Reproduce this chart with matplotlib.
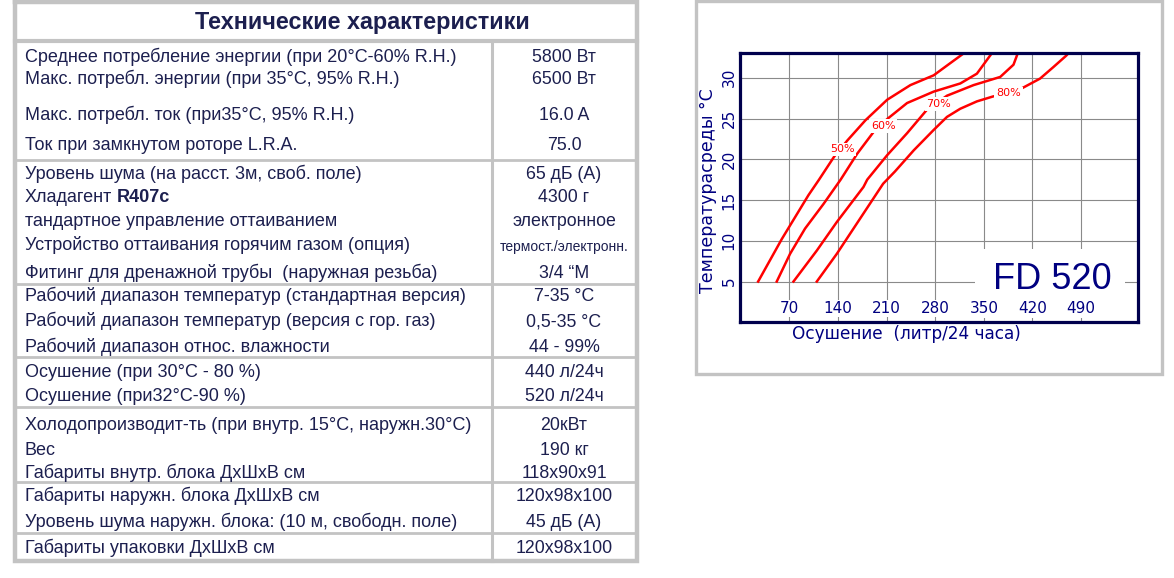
import numpy as np
import matplotlib.pyplot as plt
from matplotlib.patches import Rectangle
import matplotlib.transforms as mtransforms

# таблица
title = 'Технические характеристики'
labels = ['Среднее потребление энергии (при 20°C-60% R.H.)',
          'Макс. потребл. энергии (при 35°C, 95% R.H.)',
          'Макс. потребл. ток (при35°C, 95% R.H.)',
          'Ток при замкнутом роторе L.R.A.',
          'Уровень шума (на расст. 3м, своб. поле)',
          'Хладагент',
          'тандартное управление оттаиванием',
          'Устройство оттаивания горячим газом (опция)',
          'Фитинг для дренажной трубы  (наружная резьба)',
          'Рабочий диапазон температур (стандартная версия)',
          'Рабочий диапазон температур (версия с гор. газ)',
          'Рабочий диапазон относ. влажности',
          'Осушение (при 30°C - 80 %)',
          'Осушение (при32°C-90 %)',
          'Холодопроизводит-ть (при внутр. 15°C, наружн.30°C)',
          'Вес',
          'Габариты внутр. блока ДхШхВ см',
          'Габариты наружн. блока ДхШхВ см',
          'Уровень шума наружн. блока: (10 м, свободн. поле)',
          'Габариты упаковки ДхШхВ см']
values = ['5800 Вт', '6500 Вт', '16.0 A', '75.0', '65 дБ (А)', '4300 г',
          'электронное', 'термост./электронн.', '3/4 “M', '7-35 °C',
          '0,5-35 °C', '44 - 99%', '440 л/24ч', '520 л/24ч', '20кВт',
          '190 кг', '118x90x91', '120x98x100', '45 дБ (А)', '120x98x100']
refrigerant = 'R407c'

# график
x_ticks = [70, 140, 210, 280, 350, 420, 490]
y_ticks = [5, 10, 15, 20, 25, 30]
rh_names = ['50%', '60%', '70%', '80%']
rh_x = [[25, 59, 97.5, 112.7, 134.3, 153.4, 179.7, 210.8, 244.3, 277.8, 301.8, 319.5, 322],
        [51.8, 71, 92.6, 119, 143.8, 167.8, 191.7, 211.8, 239.5, 277.8, 316.1, 340, 360.6, 361],
        [75.9, 109.5, 138.3, 176.7, 182.1, 210.8, 239.5, 268.3, 297, 335.3, 373.6, 392.7, 398.4, 399],
        [109.5, 138.3, 167, 205, 222, 249.1, 277.8, 297, 316.1, 340, 363, 385.5, 404.7, 431, 450, 468.5, 474]]
rh_y = [[5, 10.2, 15.6, 17.5, 20.3, 22.3, 24.8, 27.3, 29.1, 30.3, 31.8, 32.9, 33.2],
        [5, 8.4, 11.5, 14.5, 17.5, 20.7, 23.4, 25.0, 26.9, 28.3, 29.3, 30.5, 32.9, 33.2],
        [5, 8.8, 12.3, 16.6, 17.5, 20.5, 23.2, 26.1, 27.8, 29.1, 30.1, 31.6, 32.9, 33.2],
        [5, 8.4, 12.1, 17.0, 18.5, 21.1, 23.6, 25.2, 26.2, 27.1, 27.7, 28.1, 28.7, 29.9, 31.3, 32.7, 33.2]]
rh_lab_x = [146.2, 205.1, 285.0, 385.5]
rh_lab_y = [21.2, 24.1, 26.8, 28.1]
model = 'FD 520'

navy_t = '#1c1f4f'
gray = '#c3c3c3'
navy = '#000080'
red = '#ff0000'

fig = plt.figure(figsize=(11.74, 5.78), dpi=100)
bg = fig.add_axes([0, 0, 1, 1])
bg.set_xlim(0, 1174)
bg.set_ylim(578, 0)
bg.axis('off')

# рамка таблицы
L, R, D = 15, 636.5, 491.5
top, bot, head = 1.5, 560.5, 41
seps = [159.5, 283.5, 357.3, 407, 481.7, 533.3]
bg.plot([L, R, R, L, L], [top, top, bot, bot, top], color=gray, lw=3.2, solid_joinstyle='miter')
bg.plot([L, R], [head, head], color=gray, lw=3)
bg.plot([D, D], [head, bot], color=gray, lw=2.2)
for s in seps:
    bg.plot([L, R], [s, s], color=gray, lw=2.0)

bg.text(362, 29, title, fontsize=16.8, fontweight='bold', family='Liberation Sans',
        color=navy_t, ha='center', va='baseline')

rows_y = [62, 84, 119.5, 150, 179, 202.5, 226.5, 250.5, 278, 300.7, 326.5, 351.5,
          377.3, 400.7, 430, 455, 478.5, 501, 526.7, 553.3]
for i in range(len(labels)):
    t = bg.text(25, rows_y[i], labels[i], fontsize=13, family='Liberation Sans',
                color=navy_t, ha='left', va='baseline')
    fs = 10 if len(values[i]) > 15 else 12.8
    bg.text(564, rows_y[i], values[i], fontsize=fs, family='Liberation Sans',
            color=navy_t, ha='center', va='baseline')
    if labels[i] == 'Хладагент':
        fig.canvas.draw()
        x1 = t.get_window_extent().x1
        bg.text(x1 + 5, rows_y[i], refrigerant, fontsize=13, fontweight='bold',
                family='Liberation Sans', color=navy_t, ha='left', va='baseline')

# рамка графика
bg.add_patch(Rectangle((695.7, 0.8), 465.8, 373.5, fc='none', ec=gray, lw=2.4))

ax = fig.add_axes([740 / 1174, (578 - 322.3) / 578, 398 / 1174, 269 / 578])
ax.set_xlim(-1.1, 572)
ax.set_ylim(0, 33)
for x in x_ticks:
    ax.plot([x, x], [0, 33], color='#8a8a8a', lw=0.8, zorder=0.5)
for y in y_ticks:
    ax.plot([-1.1, 572], [y, y], color='#8a8a8a', lw=0.8, zorder=0.5)
ax.set_xticks([])
ax.set_yticks([])
for sp in ax.spines.values():
    sp.set_color('#00004d')
    sp.set_linewidth(2.3)

ax.add_patch(Rectangle((338, 0.55), 216, 8.45, fc='white', ec='none', zorder=1))
ax.text(448.7, 4.03, model, fontsize=26, family='Liberation Sans', color=navy,
        ha='center', va='baseline', zorder=3)

for k in range(len(rh_names)):
    ax.plot(rh_x[k], rh_y[k], color=red, lw=1.8, zorder=2)
    ax.text(rh_lab_x[k], rh_lab_y[k], rh_names[k], fontsize=8, color=red,
            ha='center', va='center', zorder=3,
            bbox=dict(fc='white', ec='none', pad=1.2))

for x in x_ticks:
    ax.text(x, 1.7, str(x), fontsize=11, color=navy, ha='center', va='center',
            zorder=3, bbox=dict(fc='white', ec='none', pad=1.0))

trans = mtransforms.blended_transform_factory(ax.transAxes, ax.transData)
for y in y_ticks:
    ax.text(-10.7 / 398, y, str(y), fontsize=11, color=navy, rotation=90,
            ha='center', va='center', transform=trans, clip_on=False)

bg.text(906.7, 334, 'Осушение  (литр/24 часа)', fontsize=12.2, color=navy,
        ha='center', va='center')
bg.text(708.3, 190.7, 'Температурасреды °C', fontsize=12.5, color=navy,
        ha='center', va='center', rotation=90)

fig.savefig('out.png', dpi=100)
